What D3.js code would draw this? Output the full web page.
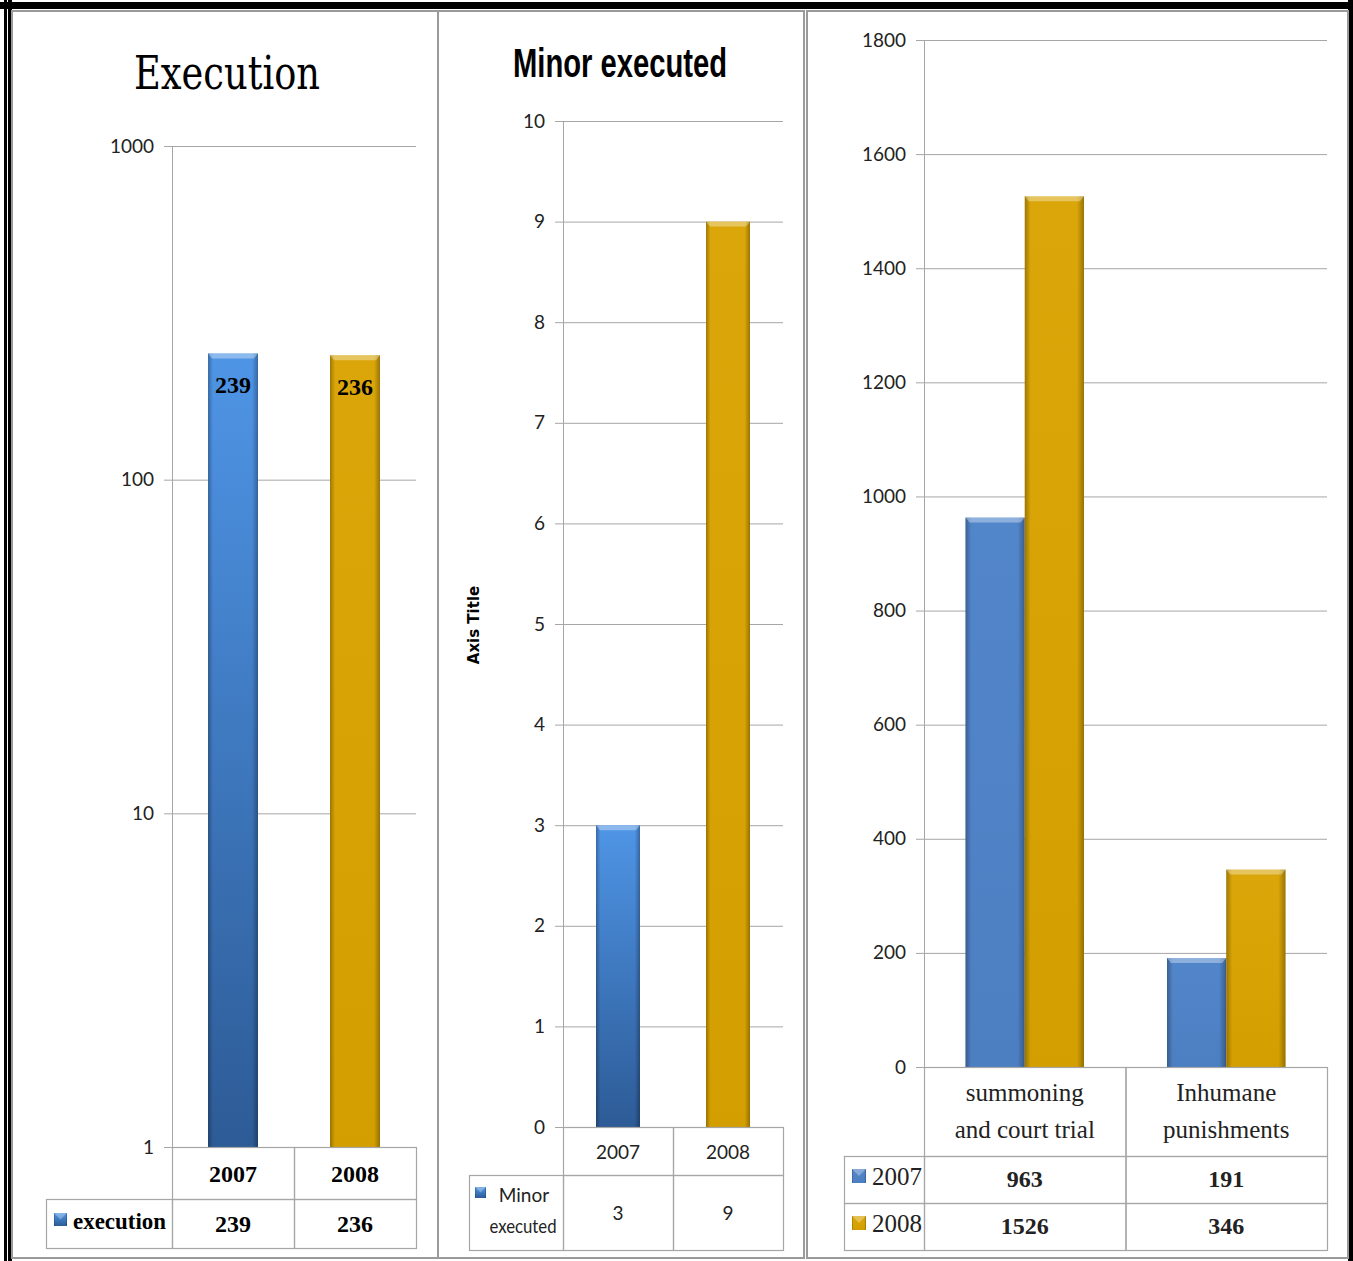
<!doctype html>
<html>
<head>
<title>Execution charts</title>
<style>
  body { margin: 0; background: #fff; }
  svg { display: block; }
</style>
</head>
<body>
<script src="https://d3js.org/d3.v7.min.js"></script>
<script>
// ---- data ----
var execYears = ["2007", "2008"];
var execValues = [239, 236];
var execTicks = [1, 10, 100, 1000];

var minorYears = ["2007", "2008"];
var minorValues = [3, 9];
var minorTicks = [0, 1, 2, 3, 4, 5, 6, 7, 8, 9, 10];

var crimeCategories = [["summoning", "and court trial"], ["Inhumane", "punishments"]];
var values2007 = [963, 191];
var values2008 = [1526, 346];
var crimeTicks = [0, 200, 400, 600, 800, 1000, 1200, 1400, 1600, 1800];

var W = 1353, H = 1261;
var grid = "#a6a6a6";
var serif = "'Liberation Serif', 'DejaVu Serif', serif";
var sans = "Lato, 'Open Sans', sans-serif";

var svg = d3.select("body").append("svg")
    .attr("width", W)
    .attr("height", H);

// gradients for the bevelled bars
var defs = svg.append("defs");
function vgrad(id, top, bottom) {
    var g = defs.append("linearGradient").attr("id", id)
        .attr("x1", 0).attr("y1", 0).attr("x2", 0).attr("y2", 1);
    g.append("stop").attr("offset", "0%").attr("stop-color", top);
    g.append("stop").attr("offset", "100%").attr("stop-color", bottom);
}
vgrad("blueGrad", "#4f95e6", "#2d5b96");
vgrad("goldGrad", "#dba609", "#d39f00");
vgrad("blueFlat", "#5286ca", "#4c7fc2");
var edge = defs.append("linearGradient").attr("id", "edgeGrad");
edge.append("stop").attr("offset", "0%").attr("stop-color", "#000").attr("stop-opacity", 0.28);
edge.append("stop").attr("offset", "10%").attr("stop-color", "#000").attr("stop-opacity", 0);
edge.append("stop").attr("offset", "88%").attr("stop-color", "#000").attr("stop-opacity", 0);
edge.append("stop").attr("offset", "100%").attr("stop-color", "#000").attr("stop-opacity", 0.3);

function bevelBar(g, x, y, w, h, fill) {
    g.append("rect").attr("x", x).attr("y", y).attr("width", w).attr("height", h)
        .attr("fill", fill);
    g.append("rect").attr("x", x).attr("y", y).attr("width", w).attr("height", h)
        .attr("fill", "url(#edgeGrad)");
    // lighter top cap
    g.append("path")
        .attr("d", "M" + x + "," + y + "h" + w + "l-4,5h" + (8 - w) + "z")
        .attr("fill", "#fff").attr("opacity", 0.35);
}

function legendIcon(g, x, y, s, fill) {
    g.append("rect").attr("x", x).attr("y", y).attr("width", s).attr("height", s)
        .attr("fill", fill);
    g.append("rect").attr("x", x).attr("y", y).attr("width", s).attr("height", s)
        .attr("fill", "url(#edgeGrad)");
    g.append("path")
        .attr("d", "M" + x + "," + y + "h" + s + "l-" + s / 2 + "," + s / 2 + "z")
        .attr("fill", "#fff").attr("opacity", 0.3);
}

// gridlines + left axis labels
function drawYAxis(g, scale, ticks, x0, x1, fmt) {
    var axis = d3.axisLeft(scale).tickValues(ticks).tickSize(8).tickPadding(10)
        .tickFormat(fmt);
    var a = g.append("g").attr("transform", "translate(" + x0 + ",0)").call(axis);
    a.select(".domain").remove();
    a.selectAll("line").attr("stroke", grid);
    a.selectAll("text").attr("font-family", sans).attr("font-size", 19)
        .attr("fill", "#222");
    g.selectAll(null).data(ticks).enter().append("line")
        .attr("x1", x0).attr("x2", x1)
        .attr("y1", function(d) { return scale(d) + 0.5; })
        .attr("y2", function(d) { return scale(d) + 0.5; })
        .attr("stroke", grid);
    var r = scale.range();
    g.append("line").attr("x1", x0 + 0.5).attr("x2", x0 + 0.5)
        .attr("y1", r[1]).attr("y2", r[0]).attr("stroke", grid);
}

function cell(g, x, y, w, h) {
    g.append("rect").attr("x", x + 0.5).attr("y", y + 0.5).attr("width", w).attr("height", h)
        .attr("fill", "none").attr("stroke", grid).attr("stroke-width", 1.2);
}

// ---- frame ----
svg.append("rect").attr("x", 0).attr("y", 2).attr("width", W).attr("height", 7).attr("fill", "#000");
svg.append("rect").attr("x", 4).attr("y", 0).attr("width", 3).attr("height", H).attr("fill", "#000");
svg.append("rect").attr("x", 8).attr("y", 0).attr("width", 4).attr("height", H).attr("fill", "#000");
svg.append("rect").attr("x", 1348).attr("y", 0).attr("width", 5).attr("height", H).attr("fill", "#000");
[[12, 426], [438, 366], [807, 541]].forEach(function(p) {
    svg.append("rect").attr("x", p[0]).attr("y", 11).attr("width", p[1]).attr("height", 1247)
        .attr("fill", "none").attr("stroke", "#9a9a9a").attr("stroke-width", 2);
});

// ================= chart 1 : Execution (log scale) =================
var g1 = svg.append("g");
var y1 = d3.scaleLog().domain([1, 1000]).range([1147, 146]);
var x1 = d3.scaleBand().domain(execYears).range([172, 416]);
g1.append("text").attr("x", 227).attr("y", 89).attr("text-anchor", "middle")
    .attr("font-family", "Papyrus, 'DejaVu Serif', serif").attr("font-size", 46)
    .attr("textLength", 186).attr("lengthAdjust", "spacingAndGlyphs")
    .text("Execution");
drawYAxis(g1, y1, execTicks, 172, 416, d3.format("d"));
execYears.forEach(function(yr, i) {
    var bx = x1(yr) + x1.bandwidth() / 2 - 25;
    var top = y1(execValues[i]);
    bevelBar(g1, bx, top, 50, y1(1) - top, i === 0 ? "url(#blueGrad)" : "url(#goldGrad)");
    g1.append("text").attr("x", bx + 25).attr("y", top + 40).attr("text-anchor", "middle")
        .attr("font-family", serif).attr("font-weight", "bold").attr("font-size", 24)
        .text(execValues[i]);
});
// data table
execYears.forEach(function(yr, i) {
    cell(g1, x1(yr), 1147, x1.bandwidth(), 52);
    cell(g1, x1(yr), 1199, x1.bandwidth(), 49);
    g1.append("text").attr("x", x1(yr) + x1.bandwidth() / 2).attr("y", 1182)
        .attr("text-anchor", "middle").attr("font-family", serif).attr("font-weight", "bold")
        .attr("font-size", 24).text(yr);
    g1.append("text").attr("x", x1(yr) + x1.bandwidth() / 2).attr("y", 1232)
        .attr("text-anchor", "middle").attr("font-family", serif).attr("font-weight", "bold")
        .attr("font-size", 24).text(execValues[i]);
});
cell(g1, 46, 1199, 126, 49);
legendIcon(g1, 54, 1213, 13, "url(#blueGrad)");
g1.append("text").attr("x", 73).attr("y", 1229).attr("font-family", serif)
    .attr("font-weight", "bold").attr("font-size", 23)
    .attr("textLength", 93).attr("lengthAdjust", "spacingAndGlyphs").text("execution");

// ================= chart 2 : Minor executed =================
var g2 = svg.append("g");
var y2 = d3.scaleLinear().domain([0, 10]).range([1127, 121]);
var x2 = d3.scaleBand().domain(minorYears).range([563, 783]);
g2.append("text").attr("x", 620).attr("y", 77).attr("text-anchor", "middle")
    .attr("font-family", "'Liberation Sans Narrow', 'Arial Narrow', sans-serif")
    .attr("font-weight", "bold").attr("font-size", 40)
    .attr("textLength", 214).attr("lengthAdjust", "spacingAndGlyphs")
    .text("Minor executed");
drawYAxis(g2, y2, minorTicks, 563, 783, d3.format("d"));
g2.append("text").attr("transform", "translate(479,625) rotate(-90)")
    .attr("text-anchor", "middle").attr("font-family", "'DejaVu Sans', sans-serif")
    .attr("font-weight", "bold").attr("font-size", 15).text("Axis Title");
minorYears.forEach(function(yr, i) {
    var bx = x2(yr) + x2.bandwidth() / 2 - 22;
    var top = y2(minorValues[i]);
    bevelBar(g2, bx, top, 44, y2(0) - top, i === 0 ? "url(#blueGrad)" : "url(#goldGrad)");
});
minorYears.forEach(function(yr, i) {
    cell(g2, x2(yr), 1127, x2.bandwidth(), 48);
    cell(g2, x2(yr), 1175, x2.bandwidth(), 75);
    g2.append("text").attr("x", x2(yr) + x2.bandwidth() / 2).attr("y", 1159)
        .attr("text-anchor", "middle").attr("font-family", sans).attr("font-size", 19)
        .attr("fill", "#222").text(yr);
    g2.append("text").attr("x", x2(yr) + x2.bandwidth() / 2).attr("y", 1220)
        .attr("text-anchor", "middle").attr("font-family", sans).attr("font-size", 19)
        .attr("fill", "#222").text(minorValues[i]);
});
cell(g2, 469, 1175, 94, 75);
legendIcon(g2, 475, 1187, 11, "url(#blueGrad)");
g2.append("text").attr("x", 524).attr("y", 1202).attr("text-anchor", "middle")
    .attr("font-family", sans).attr("font-size", 19).attr("fill", "#222").text("Minor");
g2.append("text").attr("x", 523).attr("y", 1233).attr("text-anchor", "middle")
    .attr("font-family", sans).attr("font-size", 19).attr("fill", "#222")
    .attr("textLength", 67).attr("lengthAdjust", "spacingAndGlyphs").text("executed");

// ================= chart 3 : categories 2007 vs 2008 =================
var g3 = svg.append("g");
var y3 = d3.scaleLinear().domain([0, 1800]).range([1067, 40]);
var catKeys = crimeCategories.map(function(c) { return c.join(" "); });
var x3 = d3.scaleBand().domain(catKeys).range([924, 1327]);
var inner = d3.scaleBand().domain(["2007", "2008"]).range([0, x3.bandwidth()])
    .paddingOuter(0.7).paddingInner(0);
drawYAxis(g3, y3, crimeTicks, 924, 1327, d3.format("d"));
catKeys.forEach(function(k, i) {
    [[values2007, "2007", "url(#blueFlat)"], [values2008, "2008", "url(#goldGrad)"]].forEach(function(s) {
        var bx = x3(k) + inner(s[1]);
        var top = y3(s[0][i]);
        bevelBar(g3, bx, top, inner.bandwidth(), y3(0) - top, s[2]);
    });
});
catKeys.forEach(function(k, i) {
    var cx = x3(k) + x3.bandwidth() / 2;
    cell(g3, x3(k), 1067, x3.bandwidth(), 89);
    cell(g3, x3(k), 1156, x3.bandwidth(), 47);
    cell(g3, x3(k), 1203, x3.bandwidth(), 47);
    crimeCategories[i].forEach(function(line, j) {
        g3.append("text").attr("x", cx).attr("y", 1101 + j * 37).attr("text-anchor", "middle")
            .attr("font-family", serif).attr("font-size", 25).attr("fill", "#222").text(line);
    });
    g3.append("text").attr("x", cx).attr("y", 1187).attr("text-anchor", "middle")
        .attr("font-family", serif).attr("font-weight", "bold").attr("font-size", 24)
        .attr("fill", "#222").text(values2007[i]);
    g3.append("text").attr("x", cx).attr("y", 1234).attr("text-anchor", "middle")
        .attr("font-family", serif).attr("font-weight", "bold").attr("font-size", 24)
        .attr("fill", "#222").text(values2008[i]);
});
cell(g3, 844, 1156, 80, 47);
cell(g3, 844, 1203, 80, 47);
legendIcon(g3, 852, 1169, 14, "url(#blueFlat)");
legendIcon(g3, 852, 1216, 14, "url(#goldGrad)");
g3.append("text").attr("x", 872).attr("y", 1185).attr("font-family", serif)
    .attr("font-size", 25).attr("fill", "#222").text("2007");
g3.append("text").attr("x", 872).attr("y", 1232).attr("font-family", serif)
    .attr("font-size", 25).attr("fill", "#222").text("2008");
</script>
</body>
</html>
